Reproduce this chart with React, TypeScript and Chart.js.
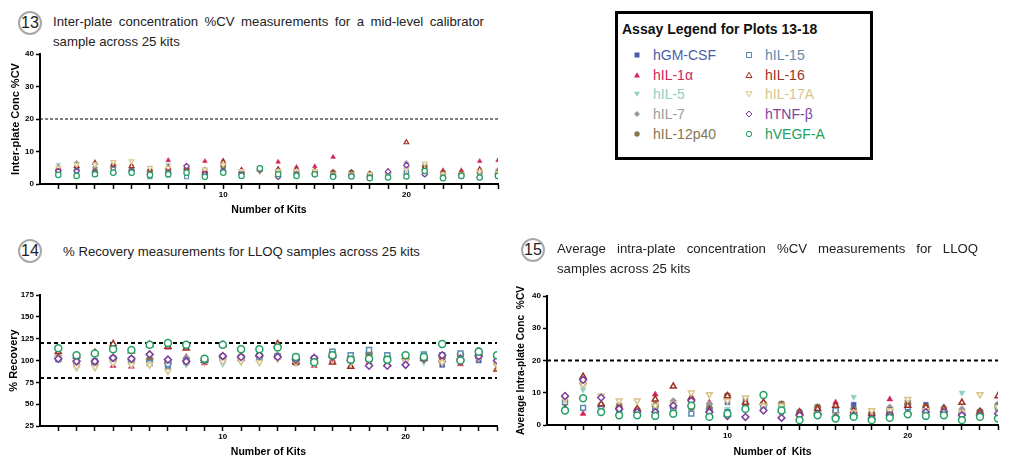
import { useEffect, useRef } from 'react';
import type { CSSProperties } from 'react';
import Chart from 'chart.js/auto';

// kit numbers on the x axis, only 10 and 20 carry a label
const kits = [1, 2, 3, 4, 5, 6, 7, 8, 9, 10, 11, 12, 13, 14, 15, 16, 17, 18, 19, 20, 21, 22, 23, 24, 25];
const xLabelTicks = [10, 20];

const assays = ['hGM-CSF', 'hIL-1α', 'hIL-5', 'hIL-7', 'hIL-12p40', 'hIL-15', 'hIL-16', 'hIL-17A', 'hTNF-β', 'hVEGF-A'];
const colors = ['#4a5ca8', '#d6235a', '#8fcfc2', '#9a9a9a', '#857650', '#5b8db0', '#9e2f22', '#d8c58c', '#7d3f9c', '#23a061'];
const pointStyles = ['rect', 'triangle', 'triangle', 'rectRot', 'circle', 'rect', 'triangle', 'triangle', 'rectRot', 'circle'];
const rotations = [0, 0, 180, 0, 0, 0, 0, 180, 0, 0];
const filled = [true, true, true, true, true, false, false, false, false, false];

// Plot 13: inter-plate %CV, mid-level calibrator
const p13GmCsf = [3.5, 3.0, 3.5, 4.0, 4.0, 2.5, 3.0, 2.5, 3.0, 4.5, 3.0, 4.6, 3.0, 3.0, 3.2, 2.8, 3.0, 2.5, 3.0, 3.6, 3.0, 2.5, 2.8, 2.6, 2.5];
const p13Il1a = [4.5, 5.5, 4.5, 5.2, 4.8, 3.5, 7.3, 5.5, 7.0, 7.2, 4.5, 4.5, 6.8, 5.2, 5.4, 8.3, 3.5, 3.2, 3.8, 5.5, 4.5, 4.2, 4.2, 7.0, 7.3];
const p13Il5 = [6.0, 5.0, 5.0, 6.5, 5.5, 4.0, 6.0, 4.5, 4.0, 6.0, 3.5, 4.8, 4.0, 3.5, 3.8, 3.5, 3.0, 3.0, 3.0, 4.5, 5.5, 3.0, 3.0, 3.5, 3.0];
const p13Il7 = [4.5, 6.5, 5.0, 6.0, 5.0, 4.5, 4.5, 5.0, 4.5, 6.5, 4.0, 5.0, 4.5, 4.0, 4.0, 3.8, 3.8, 3.3, 3.5, 6.5, 5.0, 3.5, 3.5, 4.0, 4.3];
const p13Il12p40 = [3.8, 4.5, 4.0, 5.0, 4.5, 3.5, 4.0, 4.5, 3.5, 5.5, 3.5, 4.8, 3.5, 3.5, 3.5, 3.5, 3.5, 3.0, 3.5, 3.5, 5.5, 3.5, 3.2, 3.5, 3.5];
const p13Il15 = [3.2, 4.0, 3.0, 4.5, 3.5, 2.2, 2.8, 2.2, 2.5, 4.0, 2.5, 4.5, 2.5, 2.8, 3.0, 2.5, 2.5, 2.0, 2.5, 3.8, 3.5, 2.0, 2.5, 2.5, 2.5];
const p13Il16 = [4.8, 5.5, 6.5, 6.0, 5.5, 4.5, 5.0, 5.0, 4.0, 6.8, 4.0, 4.5, 4.5, 4.5, 4.0, 3.5, 3.5, 3.0, 3.8, 12.8, 5.0, 3.5, 3.5, 4.5, 3.5];
const p13Il17a = [5.0, 6.0, 6.0, 6.8, 7.0, 5.0, 5.0, 5.5, 4.5, 6.0, 4.0, 3.8, 4.0, 4.0, 4.0, 3.0, 3.0, 3.0, 3.0, 4.5, 6.3, 3.0, 3.0, 3.8, 3.5];
const p13Tnfb = [4.0, 4.0, 3.5, 3.5, 4.0, 3.0, 3.5, 5.5, 3.0, 4.0, 3.0, 4.3, 2.2, 3.0, 3.0, 2.5, 2.5, 2.0, 3.8, 5.8, 3.0, 2.0, 2.5, 2.0, 2.5];
const p13Vegfa = [2.8, 2.5, 3.0, 3.5, 3.5, 2.8, 3.0, 3.5, 2.2, 3.5, 2.5, 4.8, 3.0, 2.5, 3.0, 2.2, 2.3, 1.8, 2.0, 2.3, 4.0, 1.8, 2.5, 2.0, 2.5];
const p13Limits = [20];

// Plot 14: % recovery, LLOQ samples
const p14GmCsf = [101, 95, 97, 100, 98, 98, 93, 98, 99, 102, 102, 104, 104, 103, 101, 108, 104, 107, 104, 103, 104, 95, 103, 100, 103];
const p14Il1a = [105, 98, 96, 94, 93, 100, 115, 104, 97, 101, 101, 105, 104, 97, 94, 101, 99, 98, 96, 96, 102, 104, 96, 104, 100];
const p14Il5 = [103, 91, 95, 98, 97, 96, 95, 95, 99, 96, 98, 101, 104, 100, 101, 104, 100, 100, 101, 100, 98, 103, 100, 103, 98];
const p14Il7 = [104, 100, 98, 104, 103, 102, 98, 103, 100, 103, 105, 104, 106, 100, 101, 106, 104, 106, 104, 103, 106, 105, 105, 106, 104];
const p14Il12p40 = [103, 104, 97, 102, 100, 101, 97, 100, 100, 104, 104, 106, 105, 98, 100, 109, 103, 108, 103, 102, 103, 104, 107, 111, 97];
const p14Il15 = [102, 97, 99, 102, 101, 97, 96, 100, 101, 104, 103, 104, 105, 104, 102, 110, 106, 112, 106, 103, 107, 106, 108, 105, 105];
const p14Il16 = [110, 105, 109, 119, 111, 118, 116, 114, 100, 118, 103, 107, 119, 98, 99, 98, 93, 102, 96, 104, 102, 101, 102, 109, 90];
const p14Il17a = [103, 93, 92, 97, 95, 95, 88, 98, 98, 99, 99, 98, 102, 98, 96, 102, 98, 100, 98, 99, 101, 98, 101, 103, 95];
const p14Tnfb = [102, 99, 99, 103, 102, 107, 101, 99, 100, 105, 104, 106, 104, 101, 103, 104, 100, 94, 94, 95, 102, 106, 101, 105, 100];
const p14Vegfa = [114, 106, 108, 113, 112, 118, 120, 118, 102, 118, 113, 113, 115, 104, 98, 106, 101, 102, 101, 106, 104, 119, 100, 110, 106];
const p14Limits = [80, 120];

// Plot 15: average intra-plate %CV, LLOQ samples
const p15GmCsf = [7.5, 13.5, 4.5, 3.8, 4.0, 4.0, 5.0, 7.0, 5.5, 7.0, 8.0, 6.5, 4.0, 4.0, 4.5, 3.5, 6.3, 3.0, 3.5, 5.5, 6.3, 4.5, 3.5, 4.0, 5.0];
const p15Il1a = [4.5, 3.5, 5.5, 5.0, 4.5, 9.5, 5.0, 8.0, 7.0, 8.5, 6.5, 7.0, 4.5, 3.0, 5.0, 7.0, 4.0, 2.5, 8.0, 4.0, 5.5, 5.5, 4.0, 3.5, 6.0];
const p15Il5 = [4.8, 11.0, 4.0, 6.0, 3.5, 5.5, 5.0, 5.5, 6.0, 5.0, 5.5, 5.0, 4.0, 2.5, 4.0, 3.5, 8.7, 2.5, 5.0, 7.0, 4.5, 4.0, 10.0, 3.5, 4.5];
const p15Il7 = [8.5, 13.0, 5.5, 6.5, 4.0, 6.5, 7.5, 7.5, 6.5, 8.0, 7.0, 6.0, 6.0, 3.5, 4.5, 5.0, 5.0, 4.0, 5.5, 7.5, 5.0, 5.5, 5.0, 4.5, 6.5];
const p15Il12p40 = [4.5, 13.0, 6.0, 5.5, 4.5, 6.0, 5.5, 5.5, 5.0, 9.0, 5.0, 6.5, 6.5, 3.0, 5.5, 4.0, 3.5, 3.5, 4.5, 6.5, 5.5, 4.0, 3.5, 4.0, 6.0];
const p15Il15 = [7.0, 5.3, 5.0, 4.0, 3.5, 4.5, 4.5, 3.5, 4.5, 4.0, 5.5, 5.5, 5.0, 3.5, 4.0, 4.5, 4.5, 2.5, 4.0, 5.5, 4.0, 3.5, 3.0, 3.0, 5.5];
const p15Il16 = [5.0, 15.0, 6.5, 5.5, 5.0, 8.0, 12.0, 8.5, 4.5, 9.0, 7.0, 7.0, 4.5, 4.0, 5.0, 6.0, 4.5, 3.5, 4.0, 6.0, 5.5, 5.0, 7.0, 4.0, 9.0];
const p15Il17a = [8.0, 12.5, 9.0, 7.5, 7.5, 6.0, 6.5, 10.0, 9.5, 7.5, 8.5, 6.0, 6.0, 2.5, 3.5, 3.0, 4.0, 4.5, 4.5, 8.0, 4.5, 4.0, 4.0, 9.5, 5.5];
const p15Tnfb = [9.0, 14.0, 8.5, 5.0, 4.0, 4.0, 6.0, 7.5, 4.0, 2.8, 2.5, 4.5, 2.2, 3.0, 3.5, 2.5, 3.0, 2.0, 3.0, 3.5, 4.0, 4.0, 3.0, 3.0, 3.5];
const p15Vegfa = [4.5, 8.3, 4.0, 3.0, 3.0, 2.8, 3.5, 6.0, 2.5, 3.5, 5.0, 9.3, 4.5, 1.5, 3.0, 2.0, 2.5, 1.5, 2.2, 3.3, 2.8, 3.0, 1.5, 2.5, 2.0];
const p15Limits = [20];

const SANS = "'Liberation Sans', Arial, sans-serif";

type PanelProps = {
  series: number[][];
  limits: number[];
  yMin: number;
  yMax: number;
  yStep: number;
  yTitle: string;
  yTitleSize: number;
  xTitle: string;
  yAxisWidth: number;
  yTitlePad: number;
  xAxisHeight: number;
  padTop: number;
  padRight: number;
  radius: number;
  openWidth: number;
  dashWidth: number;
  dash: number[];
  style: CSSProperties;
};

function ScatterPanel(p: PanelProps) {
  const canvasRef = useRef<HTMLCanvasElement>(null);

  useEffect(() => {
    const canvas = canvasRef.current;
    if (!canvas) return;

    const datasets: any[] = p.series.map((vals, i) => ({
      type: 'scatter',
      label: assays[i],
      data: kits.map((k, j) => ({ x: k, y: vals[j] })),
      pointStyle: pointStyles[i],
      pointRotation: rotations[i],
      pointRadius: p.radius,
      pointBorderWidth: filled[i] ? 0.5 : p.openWidth,
      pointBorderColor: colors[i],
      pointBackgroundColor: filled[i] ? colors[i] : '#ffffff',
      order: -i,
    }));
    // dashed acceptance limits across the full x range
    p.limits.forEach((v) =>
      datasets.push({
        type: 'line',
        data: [{ x: 0, y: v }, { x: 25, y: v }],
        borderColor: '#000',
        borderWidth: p.dashWidth,
        borderDash: p.dash,
        pointRadius: 0,
        order: 100,
      })
    );

    const tickFont = { family: SANS, size: 8, weight: 'bold' as const };

    const chart = new Chart(canvas, {
      type: 'scatter',
      data: { datasets },
      options: {
        animation: false,
        responsive: true,
        maintainAspectRatio: false,
        layout: { padding: { top: p.padTop, right: p.padRight, left: 0, bottom: 0 } },
        plugins: { legend: { display: false }, tooltip: { enabled: false } },
        scales: {
          x: {
            type: 'linear',
            min: 0,
            max: 25,
            afterBuildTicks: (s: any) => {
              s.ticks = kits.map((k) => ({ value: k }));
            },
            afterFit: (s: any) => {
              s.height = p.xAxisHeight;
            },
            ticks: {
              autoSkip: false,
              maxRotation: 0,
              padding: 1,
              color: '#000',
              font: tickFont,
              callback: (v: any) => (xLabelTicks.includes(Number(v)) ? String(v) : ''),
            },
            grid: { drawOnChartArea: false, drawTicks: true, tickLength: 5, tickColor: '#000', tickWidth: 1.5 },
            border: { color: '#000', width: 2 },
            title: {
              display: true,
              text: p.xTitle,
              color: '#000',
              font: { family: SANS, size: 10.5, weight: 'bold' },
              padding: { top: 0, bottom: 4 },
            },
          },
          y: {
            type: 'linear',
            min: p.yMin,
            max: p.yMax,
            afterFit: (s: any) => {
              s.width = p.yAxisWidth;
            },
            ticks: { stepSize: p.yStep, padding: 2, color: '#000', font: tickFont },
            grid: { drawOnChartArea: false, drawTicks: true, tickLength: 4, tickColor: '#000', tickWidth: 1.5 },
            border: { color: '#000', width: 2 },
            title: {
              display: true,
              text: p.yTitle,
              color: '#000',
              font: { family: SANS, size: p.yTitleSize, weight: 'bold' },
              padding: { top: p.yTitlePad, bottom: 0 },
            },
          },
        },
      },
    });

    return () => chart.destroy();
  }, []);

  return (
    <div style={{ position: 'absolute', ...p.style }}>
      <canvas ref={canvasRef} />
    </div>
  );
}

function Badge({ n, cx, cy }: { n: number; cx: number; cy: number }) {
  return (
    <div
      style={{
        position: 'absolute',
        left: cx - 12,
        top: cy - 12,
        width: 24,
        height: 24,
        boxSizing: 'border-box',
        border: '2.5px solid #a8a8a8',
        borderRadius: '50%',
        font: `16px ${SANS}`,
        color: '#222',
        display: 'flex',
        alignItems: 'center',
        justifyContent: 'center',
      }}
    >
      {n}
    </div>
  );
}

function Title({ text, left, top, width }: { text: string; left: number; top: number; width: number }) {
  return (
    <div
      style={{
        position: 'absolute',
        left,
        top,
        width,
        font: `13.2px/20px ${SANS}`,
        color: '#222',
        textAlign: 'justify',
        textAlignLast: 'left',
      }}
    >
      {text}
    </div>
  );
}

function Marker({ i, cx, cy }: { i: number; cx: number; cy: number }) {
  const c = colors[i];
  const fill = filled[i] ? c : '#fff';
  const sw = filled[i] ? 0 : 1;
  let shape;
  if (pointStyles[i] === 'rect') shape = <rect x={2.5} y={2.5} width={5} height={5} fill={fill} stroke={c} strokeWidth={sw} />;
  else if (pointStyles[i] === 'circle') shape = <circle cx={5} cy={5} r={2.7} fill={fill} stroke={c} strokeWidth={sw} />;
  else if (pointStyles[i] === 'rectRot') shape = <polygon points="5,2 8,5 5,8 2,5" fill={fill} stroke={c} strokeWidth={sw} />;
  else if (rotations[i] === 180) shape = <polygon points="2,2.8 8,2.8 5,7.8" fill={fill} stroke={c} strokeWidth={sw} />;
  else shape = <polygon points="5,2.2 8,7.5 2,7.5" fill={fill} stroke={c} strokeWidth={sw} />;
  return (
    <svg width={10} height={10} style={{ position: 'absolute', left: cx - 5, top: cy - 5 }}>
      {shape}
    </svg>
  );
}

const legendRows = [55, 75, 94, 114, 134];

export default function App() {
  return (
    <div style={{ position: 'relative', width: 1010, height: 462, background: '#fff', overflow: 'hidden' }}>
      <style>{'body{margin:0}'}</style>

      <Badge n={13} cx={30} cy={23} />
      <Title
        text="Inter-plate concentration %CV measurements for a mid-level calibrator sample across 25 kits"
        left={53}
        top={12}
        width={431}
      />
      <ScatterPanel
        series={[p13GmCsf, p13Il1a, p13Il5, p13Il7, p13Il12p40, p13Il15, p13Il16, p13Il17a, p13Tnfb, p13Vegfa]}
        limits={p13Limits}
        yMin={0}
        yMax={40}
        yStep={10}
        yTitle="Inter-plate Conc %CV"
        yTitleSize={11}
        xTitle="Number of Kits"
        yAxisWidth={40}
        yTitlePad={9}
        xAxisHeight={36}
        padTop={8}
        padRight={12}
        radius={2.7}
        openWidth={1.2}
        dashWidth={1.2}
        dash={[3, 2]}
        style={{ left: 0, top: 46, width: 510, height: 174 }}
      />

      <Badge n={14} cx={30} cy={251} />
      <Title text="% Recovery measurements for LLOQ samples across 25 kits" left={63} top={242} width={420} />
      <ScatterPanel
        series={[p14GmCsf, p14Il1a, p14Il5, p14Il7, p14Il12p40, p14Il15, p14Il16, p14Il17a, p14Tnfb, p14Vegfa]}
        limits={p14Limits}
        yMin={25}
        yMax={175}
        yStep={25}
        yTitle="% Recovery"
        yTitleSize={11}
        xTitle="Number of Kits"
        yAxisWidth={40}
        yTitlePad={7}
        xAxisHeight={36}
        padTop={10}
        padRight={13}
        radius={3.5}
        openWidth={1.5}
        dashWidth={2}
        dash={[4, 3]}
        style={{ left: 0, top: 285, width: 510, height: 177 }}
      />

      <Badge n={15} cx={533} cy={250} />
      <Title
        text="Average intra-plate concentration %CV measurements for LLOQ samples across 25 kits"
        left={557}
        top={239}
        width={421}
      />
      <ScatterPanel
        series={[p15GmCsf, p15Il1a, p15Il5, p15Il7, p15Il12p40, p15Il15, p15Il16, p15Il17a, p15Tnfb, p15Vegfa]}
        limits={p15Limits}
        yMin={0}
        yMax={40}
        yStep={10}
        yTitle="Average Intra-plate Conc  %CV"
        yTitleSize={10.2}
        xTitle="Number of  Kits"
        yAxisWidth={42}
        yTitlePad={10}
        xAxisHeight={37}
        padTop={11}
        padRight={12}
        radius={3.4}
        openWidth={1.5}
        dashWidth={2}
        dash={[4, 3]}
        style={{ left: 505, top: 285, width: 505, height: 177 }}
      />

      <div
        style={{
          position: 'absolute',
          left: 615,
          top: 11,
          width: 258,
          height: 149,
          boxSizing: 'border-box',
          border: '3.5px solid #000',
        }}
      />
      <div style={{ position: 'absolute', left: 622, top: 21, font: `bold 14px/16px ${SANS}`, color: '#111' }}>
        Assay Legend for Plots 13-18
      </div>
      {assays.map((name, i) => {
        const col = i < 5 ? 0 : 1;
        const cy = legendRows[i % 5];
        const mx = col === 0 ? 637 : 749;
        const tx = col === 0 ? 653 : 765;
        return (
          <div key={name}>
            <Marker i={i} cx={mx} cy={cy} />
            <div style={{ position: 'absolute', left: tx, top: cy - 8, font: `14px/16px ${SANS}`, color: colors[i] }}>
              {name}
            </div>
          </div>
        );
      })}
    </div>
  );
}
